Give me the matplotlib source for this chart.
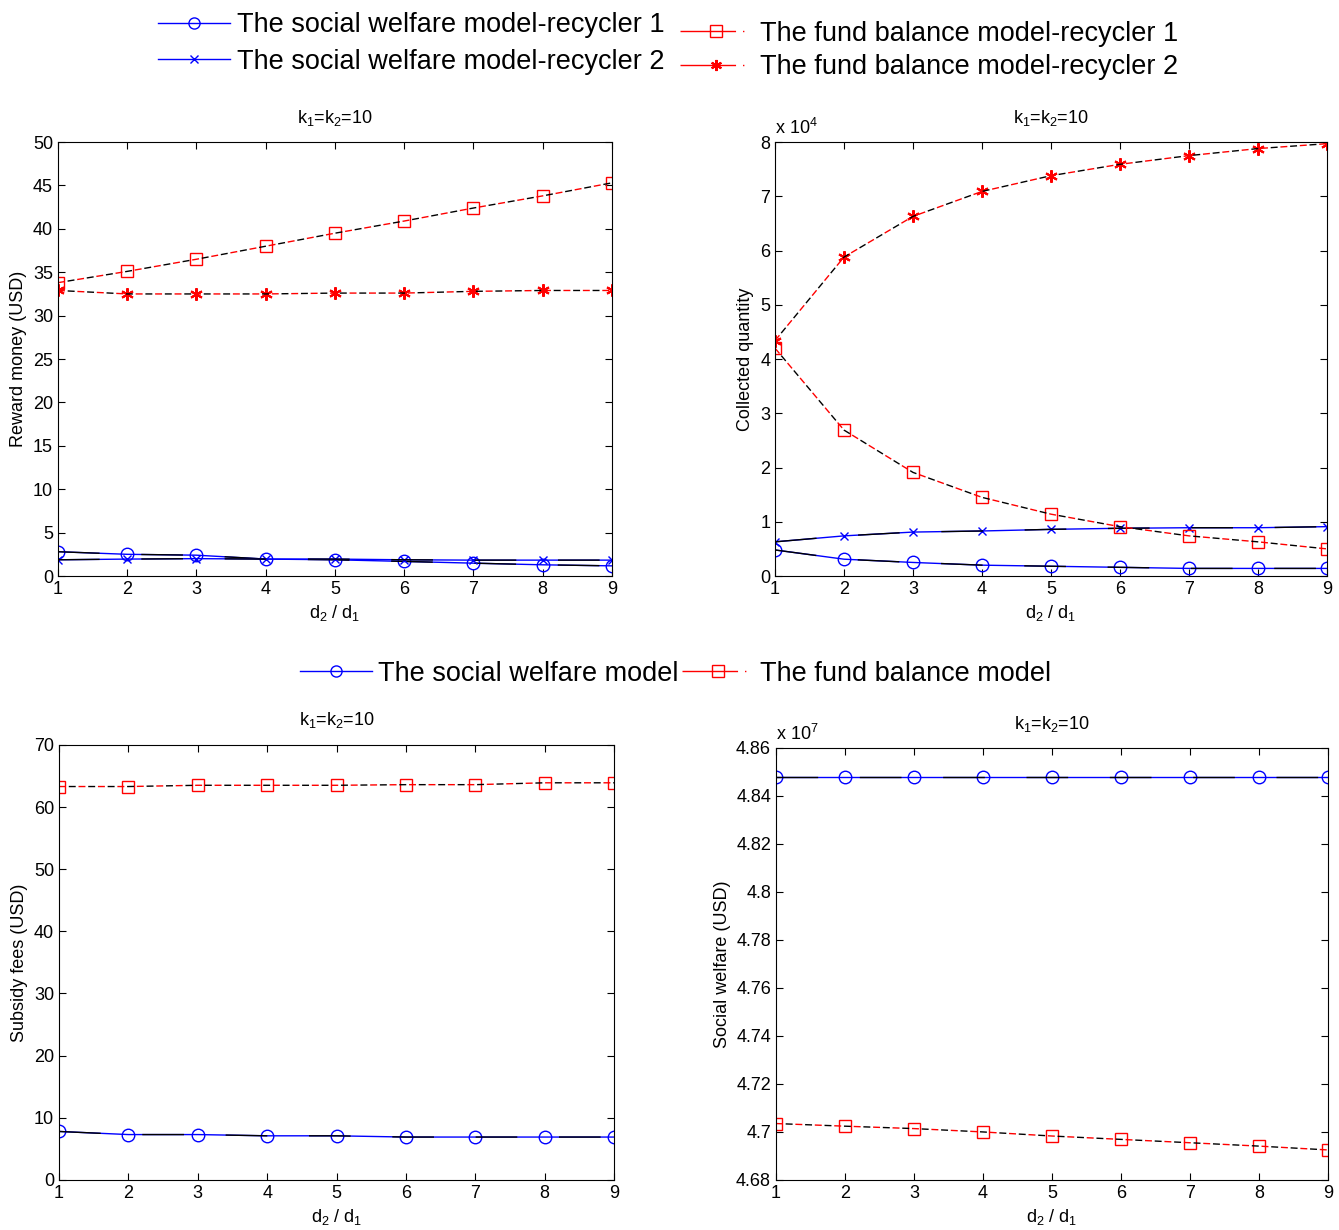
import matplotlib
matplotlib.use("Agg")
import matplotlib.pyplot as plt
from matplotlib.lines import Line2D
from matplotlib.ticker import FormatStrFormatter

plt.rcParams['font.family'] = ['Liberation Sans Narrow', 'Liberation Sans', 'DejaVu Sans']
plt.rcParams['mathtext.fontset'] = 'custom'
plt.rcParams['mathtext.rm'] = 'Liberation Sans'
plt.rcParams['mathtext.it'] = 'Liberation Sans'

ratio = [1, 2, 3, 4, 5, 6, 7, 8, 9]

# reward money (USD)
reward_sw1 = [2.8, 2.5, 2.4, 1.95, 1.87, 1.68, 1.48, 1.29, 1.17]
reward_sw2 = [1.87, 1.95, 2.0, 1.95, 1.95, 1.87, 1.83, 1.83, 1.83]
reward_fb1 = [33.8, 35.1, 36.5, 38.0, 39.5, 40.9, 42.4, 43.8, 45.3]
reward_fb2 = [32.9, 32.5, 32.5, 32.5, 32.6, 32.6, 32.8, 32.9, 32.9]

# collected quantity (x 10^4)
qty_sw1 = [0.48, 0.31, 0.25, 0.20, 0.18, 0.16, 0.14, 0.14, 0.14]
qty_sw2 = [0.63, 0.74, 0.81, 0.83, 0.86, 0.88, 0.89, 0.89, 0.91]
qty_fb1 = [4.20, 2.69, 1.91, 1.45, 1.14, 0.91, 0.74, 0.63, 0.50]
qty_fb2 = [4.34, 5.88, 6.63, 7.09, 7.38, 7.59, 7.75, 7.88, 7.97]

# subsidy fees (USD)
subsidy_sw = [7.8, 7.3, 7.3, 7.1, 7.1, 6.9, 6.9, 6.9, 6.9]
subsidy_fb = [63.3, 63.3, 63.5, 63.5, 63.5, 63.6, 63.6, 63.9, 63.9]

# social welfare (x 10^7 USD)
welfare_sw = [4.848] * 9
welfare_fb = [4.7035, 4.7024, 4.7014, 4.7000, 4.6983, 4.6969, 4.6955, 4.6941, 4.6925]


def sw_line(ax, y, marker, ms):
    ax.plot(ratio, y, color='blue', lw=1, marker=marker, mfc='none', mec='blue', ms=ms, mew=1)
    ax.plot(ratio, y, color='black', lw=1, ls=(0, (30, 30)))


def fb_line(ax, y, marker, ms, mew=1):
    ax.plot(ratio, y, color='red', lw=1, ls=(0, (5, 9)), marker=marker, mfc='none', mec='red', ms=ms, mew=mew)
    ax.plot(ratio, y, color='black', lw=1, ls=(7, (5, 9)))


def style(ax, ylabel, ylim, yticks, fmt='%g'):
    ax.set_xlim(1, 9)
    ax.set_xticks(ratio)
    ax.set_ylim(*ylim)
    ax.set_yticks(yticks)
    ax.yaxis.set_major_formatter(FormatStrFormatter(fmt))
    ax.tick_params(direction='in', top=True, right=True, length=5, labelsize=13)
    ax.set_title(r'k$_1$=k$_2$=10', fontsize=13, pad=14)
    ax.set_xlabel(r'd$_2$ / d$_1$', fontsize=13)
    ax.set_ylabel(ylabel, fontsize=13)


fig = plt.figure(figsize=(13.39, 12.30), dpi=100)
ax1 = fig.add_axes([0.0433, 0.5317, 0.4137, 0.3528])
ax2 = fig.add_axes([0.5788, 0.5317, 0.4122, 0.3528])
ax3 = fig.add_axes([0.0441, 0.0407, 0.4145, 0.3537])
ax4 = fig.add_axes([0.5795, 0.0407, 0.4122, 0.3512])

star = (6, 2, 0)

sw_line(ax1, reward_sw1, 'o', 9)
sw_line(ax1, reward_sw2, 'x', 6)
fb_line(ax1, reward_fb1, 's', 9)
fb_line(ax1, reward_fb2, star, 9, 1.5)
style(ax1, 'Reward money (USD)', (0, 50), range(0, 51, 5))

sw_line(ax2, qty_sw1, 'o', 9)
sw_line(ax2, qty_sw2, 'x', 6)
fb_line(ax2, qty_fb1, 's', 9)
fb_line(ax2, qty_fb2, star, 9, 1.5)
style(ax2, 'Collected quantity', (0, 8), range(0, 9))
ax2.text(0, 1.01, r'x 10$^4$', transform=ax2.transAxes, fontsize=13, va='bottom')

sw_line(ax3, subsidy_sw, 'o', 9)
fb_line(ax3, subsidy_fb, 's', 9)
style(ax3, 'Subsidy fees (USD)', (0, 70), range(0, 71, 10))

sw_line(ax4, welfare_sw, 'o', 9)
fb_line(ax4, welfare_fb, 's', 9)
style(ax4, 'Social welfare (USD)', (4.68, 4.86), [4.68 + 0.02 * i for i in range(10)])
ax4.text(0, 1.01, r'x 10$^7$', transform=ax4.transAxes, fontsize=13, va='bottom')

lfont = {'family': ['Liberation Sans', 'DejaVu Sans'], 'size': 19.5}

fb_dash = (0, (40, 5, 1, 20))
h_sw1 = Line2D([], [], color='blue', lw=1, marker='o', mfc='none', ms=8)
h_sw2 = Line2D([], [], color='blue', lw=1, marker='x', ms=6)
h_fb1 = Line2D([], [], color='red', lw=1, ls=fb_dash, marker='s', mfc='none', ms=8)
h_fb2 = Line2D([], [], color='red', lw=1, ls=fb_dash, marker=star, ms=8, mew=1.5)

fig.legend([h_sw1, h_sw2], ['The social welfare model-recycler 1', 'The social welfare model-recycler 2'],
           loc='upper left', bbox_to_anchor=(0.0998, 1.010), frameon=False, prop=lfont,
           handlelength=2.65, handletextpad=0.26, labelspacing=0.4)
fig.legend([h_fb1, h_fb2], ['The fund balance model-recycler 1', 'The fund balance model-recycler 2'],
           loc='upper left', bbox_to_anchor=(0.4896, 1.003), frameon=False, prop=lfont,
           handlelength=2.65, handletextpad=0.3, labelspacing=0.28)
fig.legend([h_sw1, h_fb1], ['The social welfare model', 'The fund balance model'],
           loc='upper left', bbox_to_anchor=(0.2058, 0.4825), frameon=False, prop=lfont, ncol=2,
           handlelength=2.65, handletextpad=0.25, columnspacing=0.1)

fig.savefig('out.png', dpi=100)
